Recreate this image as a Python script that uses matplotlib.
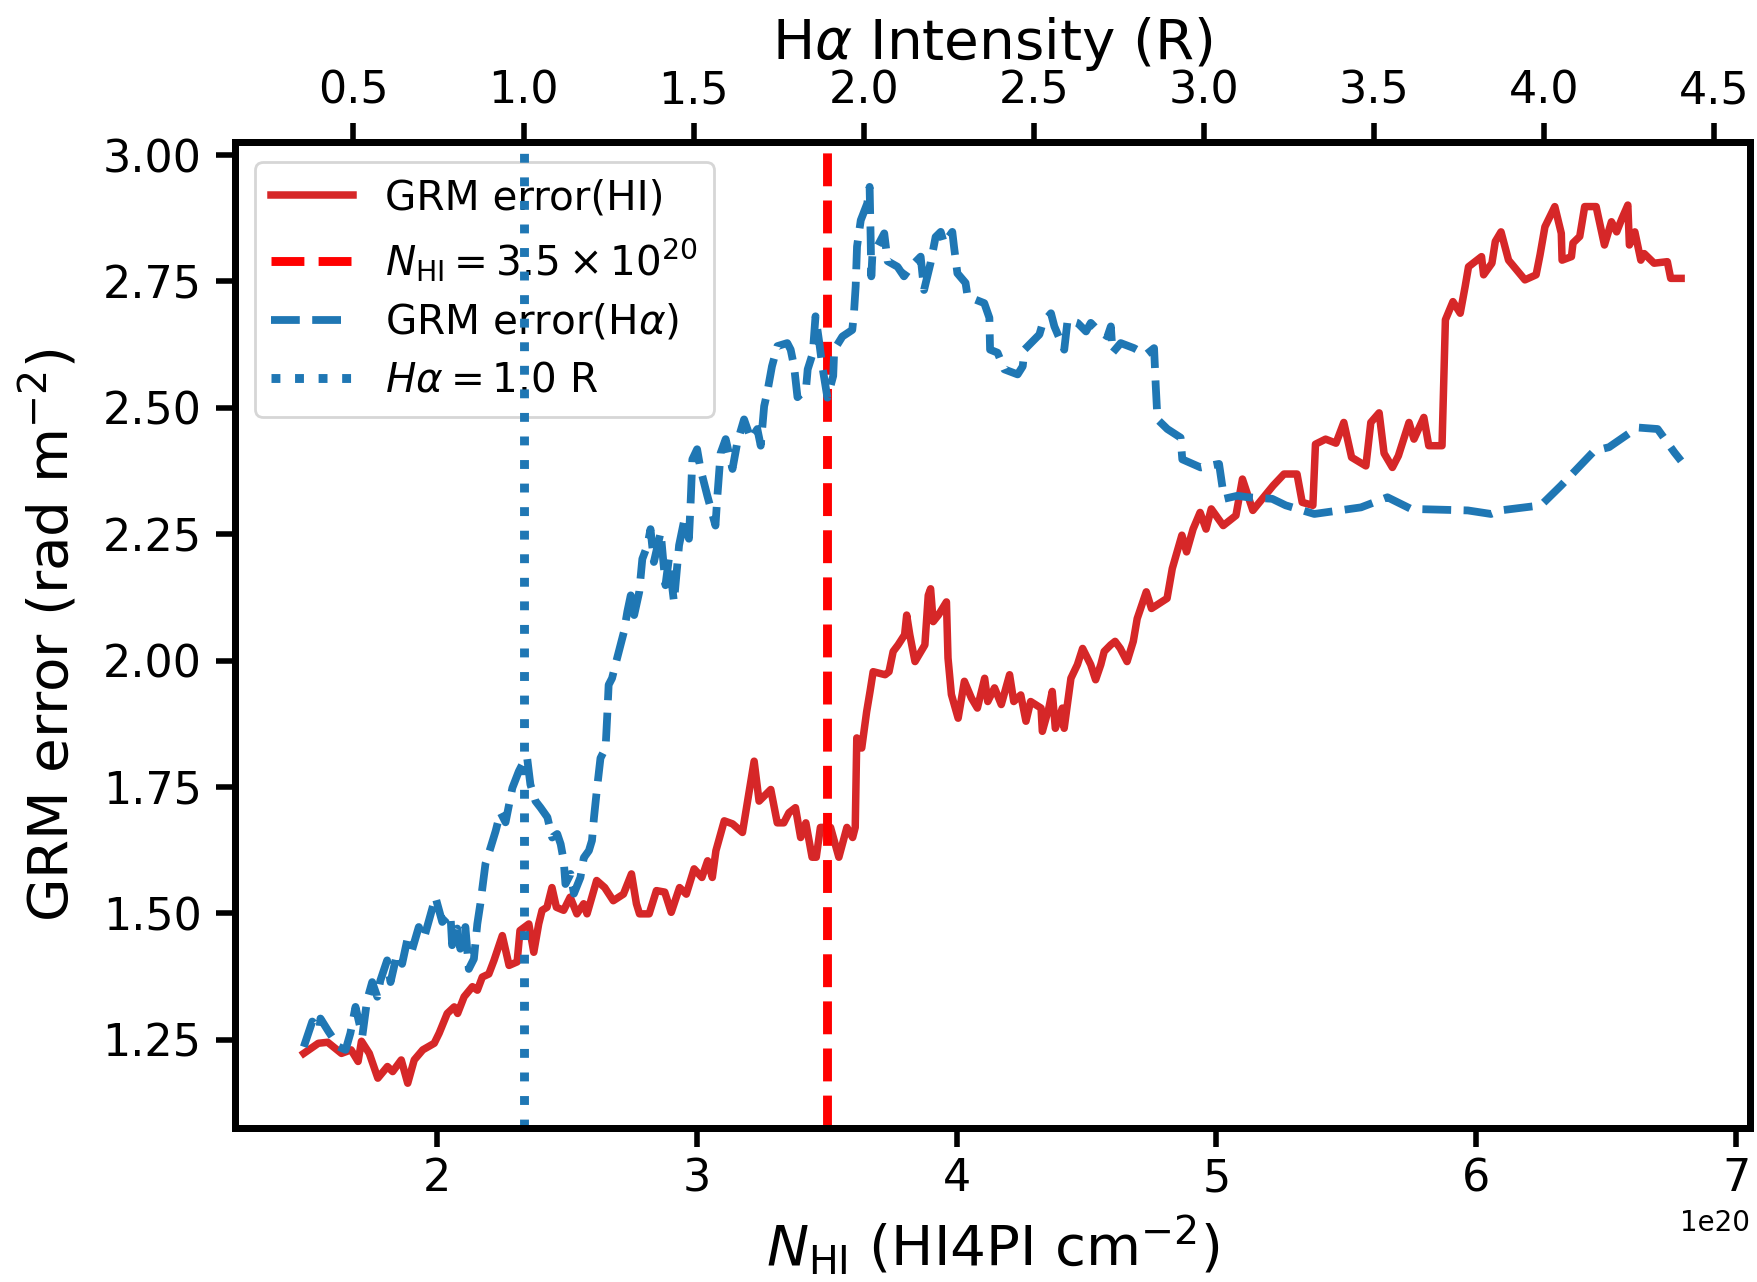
import matplotlib.pyplot as plt
import numpy as np

# GRM error vs HI column density (x in units of 1e20 cm^-2)
nhi_1e20 = [
    1.488, 1.544, 1.580, 1.633, 1.670, 1.697, 1.710, 1.740, 1.773, 1.810,
    1.830, 1.863, 1.888, 1.913, 1.946, 1.990, 2.009, 2.040, 2.067, 2.080,
    2.105, 2.137, 2.156, 2.175, 2.200, 2.220, 2.252, 2.278, 2.309, 2.320,
    2.354, 2.373, 2.392, 2.405, 2.424, 2.443, 2.460, 2.488, 2.513, 2.539,
    2.565, 2.578, 2.615, 2.646, 2.679, 2.718, 2.749, 2.768, 2.780, 2.817,
    2.845, 2.877, 2.902, 2.934, 2.960, 2.990, 3.020, 3.042, 3.060, 3.074,
    3.106, 3.138, 3.176, 3.200, 3.221, 3.240, 3.285, 3.310, 3.335, 3.355,
    3.380, 3.400, 3.420, 3.444, 3.460, 3.476, 3.515, 3.547, 3.578, 3.600,
    3.610, 3.616, 3.635, 3.654, 3.667, 3.679, 3.725, 3.740, 3.756, 3.775,
    3.800, 3.808, 3.820, 3.840, 3.878, 3.891, 3.900, 3.910, 3.930, 3.961,
    3.967, 3.980, 4.006, 4.030, 4.057, 4.080, 4.108, 4.120, 4.146, 4.172,
    4.204, 4.220, 4.247, 4.267, 4.285, 4.325, 4.330, 4.355, 4.368, 4.380,
    4.407, 4.414, 4.440, 4.465, 4.485, 4.516, 4.535, 4.555, 4.568, 4.593,
    4.610, 4.630, 4.656, 4.680, 4.695, 4.730, 4.750, 4.810, 4.830, 4.867,
    4.885, 4.910, 4.937, 4.960, 4.980, 5.026, 5.075, 5.100, 5.140, 5.218,
    5.260, 5.310, 5.330, 5.371, 5.381, 5.420, 5.460, 5.490, 5.520, 5.575,
    5.594, 5.626, 5.645, 5.677, 5.700, 5.741, 5.760, 5.798, 5.817, 5.868,
    5.881, 5.910, 5.938, 5.957, 5.970, 6.020, 6.028, 6.060, 6.073, 6.095,
    6.124, 6.187, 6.230, 6.245, 6.264, 6.302, 6.327, 6.330, 6.366, 6.372,
    6.398, 6.417, 6.461, 6.493, 6.520, 6.540, 6.560, 6.583, 6.589, 6.610,
    6.633, 6.646, 6.684, 6.735, 6.748, 6.788,
]
grm_err_hi = [
    1.223, 1.243, 1.245, 1.223, 1.230, 1.207, 1.247, 1.223, 1.174, 1.197,
    1.187, 1.210, 1.164, 1.210, 1.230, 1.243, 1.263, 1.302, 1.315, 1.302,
    1.335, 1.355, 1.348, 1.374, 1.380, 1.407, 1.456, 1.397, 1.404, 1.466,
    1.479, 1.423, 1.479, 1.506, 1.512, 1.551, 1.512, 1.506, 1.532, 1.499,
    1.519, 1.499, 1.565, 1.551, 1.525, 1.538, 1.578, 1.519, 1.499, 1.499,
    1.545, 1.542, 1.502, 1.551, 1.538, 1.588, 1.571, 1.604, 1.571, 1.624,
    1.683, 1.677, 1.660, 1.735, 1.801, 1.722, 1.745, 1.679, 1.679, 1.699,
    1.709, 1.650, 1.679, 1.611, 1.611, 1.670, 1.670, 1.611, 1.670, 1.650,
    1.670, 1.847, 1.827, 1.899, 1.939, 1.978, 1.972, 1.978, 2.018, 2.031,
    2.051, 2.090, 2.051, 1.998, 2.031, 2.129, 2.142, 2.077, 2.090, 2.116,
    2.005, 1.933, 1.886, 1.959, 1.926, 1.906, 1.965, 1.919, 1.946, 1.913,
    1.972, 1.919, 1.932, 1.880, 1.919, 1.906, 1.860, 1.906, 1.939, 1.866,
    1.906, 1.866, 1.965, 1.992, 2.024, 1.992, 1.962, 1.992, 2.018, 2.031,
    2.038, 2.024, 1.998, 2.038, 2.083, 2.136, 2.103, 2.123, 2.182, 2.248,
    2.215, 2.260, 2.293, 2.260, 2.300, 2.267, 2.287, 2.359, 2.297, 2.346,
    2.369, 2.369, 2.313, 2.307, 2.428, 2.438, 2.430, 2.471, 2.402, 2.385,
    2.471, 2.490, 2.410, 2.382, 2.405, 2.471, 2.438, 2.481, 2.425, 2.425,
    2.674, 2.710, 2.687, 2.740, 2.779, 2.799, 2.763, 2.786, 2.829, 2.848,
    2.792, 2.753, 2.763, 2.802, 2.858, 2.898, 2.845, 2.792, 2.799, 2.826,
    2.839, 2.898, 2.898, 2.822, 2.868, 2.848, 2.874, 2.901, 2.822, 2.848,
    2.792, 2.805, 2.786, 2.789, 2.756, 2.756,
]

# GRM error vs H-alpha intensity (R)
halpha_r = [
    0.354, 0.379, 0.400, 0.403, 0.427, 0.457, 0.477, 0.491, 0.506, 0.526,
    0.540, 0.555, 0.570, 0.579, 0.599, 0.609, 0.628, 0.643, 0.658, 0.672,
    0.692, 0.707, 0.722, 0.741, 0.761, 0.785, 0.790, 0.805, 0.814, 0.829,
    0.839, 0.854, 0.864, 0.873, 0.888, 0.903, 0.918, 0.932, 0.947, 0.967,
    0.986, 1.001, 1.010, 1.020, 1.035, 1.050, 1.070, 1.084, 1.099, 1.109,
    1.118, 1.123, 1.138, 1.148, 1.167, 1.177, 1.192, 1.201, 1.207, 1.216,
    1.226, 1.241, 1.246, 1.250, 1.260, 1.270, 1.280, 1.295, 1.305, 1.315,
    1.325, 1.340, 1.349, 1.364, 1.373, 1.383, 1.403, 1.417, 1.427, 1.442,
    1.457, 1.471, 1.486, 1.491, 1.496, 1.510, 1.520, 1.540, 1.564, 1.569,
    1.579, 1.594, 1.614, 1.628, 1.648, 1.668, 1.687, 1.697, 1.707, 1.716,
    1.730, 1.746, 1.775, 1.785, 1.795, 1.805, 1.830, 1.835, 1.850, 1.858,
    1.868, 1.878, 1.893, 1.910, 1.913, 1.937, 1.966, 1.971, 1.976, 1.980,
    1.991, 2.010, 2.017, 2.020, 2.022, 2.025, 2.060, 2.070, 2.099, 2.118,
    2.138, 2.167, 2.177, 2.196, 2.211, 2.226, 2.236, 2.260, 2.265, 2.275,
    2.299, 2.305, 2.354, 2.369, 2.371, 2.393, 2.413, 2.452, 2.467, 2.472,
    2.491, 2.516, 2.526, 2.550, 2.560, 2.589, 2.599, 2.628, 2.653, 2.667,
    2.687, 2.716, 2.726, 2.731, 2.755, 2.794, 2.829, 2.853, 2.858, 2.863,
    2.892, 2.931, 2.936, 2.990, 3.044, 3.059, 3.098, 3.128, 3.200, 3.240,
    3.324, 3.461, 3.539, 3.608, 3.775, 3.843, 3.870, 3.990, 4.049, 4.147,
    4.190, 4.274, 4.333, 4.382, 4.402,
]
grm_err_ha = [
    1.236, 1.286, 1.270, 1.292, 1.266, 1.236, 1.230, 1.263, 1.315, 1.257,
    1.328, 1.364, 1.335, 1.367, 1.407, 1.364, 1.420, 1.400, 1.447, 1.427,
    1.473, 1.450, 1.486, 1.532, 1.483, 1.499, 1.437, 1.470, 1.430, 1.473,
    1.390, 1.410, 1.479, 1.519, 1.598, 1.630, 1.663, 1.700, 1.680, 1.748,
    1.781, 1.801, 1.810, 1.755, 1.722, 1.709, 1.690, 1.650, 1.657, 1.637,
    1.604, 1.558, 1.578, 1.539, 1.571, 1.610, 1.624, 1.644, 1.690, 1.748,
    1.807, 1.827, 1.893, 1.952, 1.965, 1.992, 2.018, 2.057, 2.097, 2.129,
    2.090, 2.136, 2.201, 2.228, 2.260, 2.195, 2.254, 2.149, 2.201, 2.116,
    2.228, 2.274, 2.241, 2.313, 2.398, 2.418, 2.379, 2.326, 2.267, 2.320,
    2.410, 2.438, 2.379, 2.431, 2.477, 2.438, 2.458, 2.425, 2.503, 2.530,
    2.582, 2.622, 2.628, 2.615, 2.582, 2.521, 2.537, 2.576, 2.608, 2.681,
    2.634, 2.582, 2.520, 2.563, 2.615, 2.641, 2.654, 2.687, 2.740, 2.819,
    2.871, 2.904, 2.937, 2.838, 2.760, 2.800, 2.845, 2.790, 2.779, 2.760,
    2.779, 2.799, 2.733, 2.786, 2.838, 2.848, 2.825, 2.848, 2.819, 2.766,
    2.747, 2.720, 2.707, 2.678, 2.615, 2.609, 2.576, 2.566, 2.582, 2.615,
    2.628, 2.645, 2.668, 2.687, 2.661, 2.615, 2.674, 2.668, 2.651, 2.668,
    2.654, 2.641, 2.661, 2.609, 2.628, 2.618, 2.605, 2.618, 2.543, 2.477,
    2.458, 2.441, 2.398, 2.382, 2.389, 2.320, 2.326, 2.323, 2.320, 2.307,
    2.290, 2.303, 2.323, 2.300, 2.297, 2.290, 2.297, 2.307, 2.346, 2.415,
    2.422, 2.461, 2.458, 2.412, 2.395,
]

NHI_CUT = 3.5e20
HA_CUT = 1.0

fig = plt.figure(figsize=(8.785, 6.41), dpi=200)
ax = fig.add_axes([0.1337, 0.1201, 0.8623, 0.7691])

ax.plot(np.array(nhi_1e20) * 1e20, grm_err_hi, color="tab:red", lw=2.7,
        label="GRM error(HI)")
ax.axvline(NHI_CUT, color="r", ls="--", lw=3.2,
           label=r"$N_{\rm HI} = 3.5 \times 10^{20}$")
ax.set_xlabel(r"$N_{\rm HI}$ (HI4PI cm$^{-2}$)", fontsize=20.3, labelpad=5)
ax.set_ylabel(r"GRM error (rad m$^{-2}$)", fontsize=20.3, labelpad=8)

ax2 = ax.twiny()
ax2.plot(halpha_r, grm_err_ha, color="tab:blue", ls="--", lw=2.8,
         label=r"GRM error(H$\alpha$)")
ax2.axvline(HA_CUT, color="tab:blue", ls=":", lw=3.2, label=r"$H\alpha = 1.0$ R")
ax2.set_xlabel(r"H$\alpha$ Intensity (R)", fontsize=20.3)

for a in (ax, ax2):
    a.tick_params(labelsize=16, length=7, width=2)
    for sp in a.spines.values():
        sp.set_linewidth(2.5)
ax.tick_params(axis="y", pad=5)

h1, l1 = ax.get_legend_handles_labels()
h2, l2 = ax2.get_legend_handles_labels()
ax.legend(h1 + h2, l1 + l2, loc="upper left", fontsize=14.6, labelspacing=0.45)

fig.savefig("out.png", dpi=200)
